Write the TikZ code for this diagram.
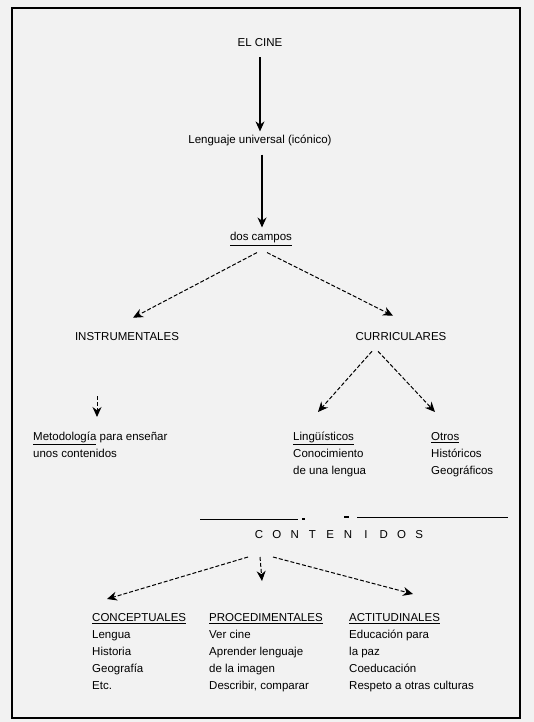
\documentclass[tikz,border=0pt]{standalone}
\usepackage{fontspec}
\setmainfont{Liberation Sans}
\usetikzlibrary{arrows.meta,calc}
\begin{document}
\begin{tikzpicture}[x=1pt,y=-1pt,
  lbl/.style={inner sep=0pt,font=\fontsize{11.5}{17}\selectfont},
  blk/.style={lbl,align=left,anchor=north west},
  solidarr/.style={line width=1.1pt,-{Stealth[length=10pt,width=9pt]}},
  dasharr/.style={line width=1pt,dash pattern=on 4pt off 2pt,-{Stealth[length=10pt,width=9pt]}},
  rule/.style={line width=1pt}]
\fill[black!5] (0,0) rectangle (534,722);
\useasboundingbox (0,0) rectangle (534,722);
\draw[line width=1.5pt] (12,8) rectangle (520,718);

\node[lbl] (cine) at (260,43) {EL CINE};
\node[lbl] (leng) at (260,140) {Lenguaje universal (icónico)};
\node[lbl] (ramas) at (261,239) {\underline{dos campos}};
\node[lbl] (instr) at (127,337) {INSTRUMENTALES};
\node[lbl] (curr) at (401,337) {CURRICULARES};
\node[blk] (metod) at (33,432) {\underline{Metodología} para enseñar\\unos contenidos};
\node[blk] (ling) at (293,432) {\underline{Lingüísticos}\\Conocimiento\\de una lengua};
\node[blk] (otros) at (431,432) {\underline{Otros}\\Históricos\\Geográficos};
\node[lbl,anchor=west] (cont) at (250,535) {\makebox[17.8pt]{C}\makebox[17.8pt]{O}\makebox[17.8pt]{N}\makebox[17.8pt]{T}\makebox[17.8pt]{E}\makebox[17.8pt]{N}\makebox[17.8pt]{I}\makebox[17.8pt]{D}\makebox[17.8pt]{O}\makebox[17.8pt]{S}};
\node[blk] (concep) at (92,613) {\underline{CONCEPTUALES}\\Lengua\\Historia\\Geografía\\Etc.};
\node[blk] (proced) at (209,613) {\underline{PROCEDIMENTALES}\\Ver cine\\Aprender lenguaje\\de la imagen\\Describir, comparar};
\node[blk] (actit) at (349,613) {\underline{ACTITUDINALES}\\Educación para\\la paz\\Coeducación\\Respeto a otras culturas};

\draw[solidarr,shorten <=10pt,shorten >=3pt] (cine.south) -- (cine.south |- leng.north);
\draw[solidarr,shorten <=9pt,shorten >=5pt] ([xshift=2pt]leng.south) -- ([xshift=2pt]leng.south |- ramas.north);

\draw[dasharr] ($(ramas.south)+(-4,7)$) -- ($(instr.north)+(6,-15)$);
\draw[dasharr] ($(ramas.south)+(6,7)$) -- ($(curr.north)+(-8,-17)$);

\draw[dasharr] ($(curr.south)+(-29,10)$) -- ($(ling.north west)+(25,-20)$);
\draw[dasharr] ($(curr.south)+(-23,10)$) -- ($(otros.north west)+(4,-20)$);

\coordinate (m1) at (97,396);
\draw[dasharr] (m1) -- ($(metod.north west)+(64,-15)$);

\draw[rule] (200,519) -- (298,519);
\fill (302,518) rectangle (305,520);
\fill (344,516) rectangle (349,518);
\draw[rule] (357,517) -- (508,517);

\coordinate (fan) at (260,556);
\draw[dasharr] ($(fan)+(-12,1)$) -- ($(concep.north west)+(15,-14)$);
\draw[dasharr] ($(fan)+(0,1)$) -- ($(proced.north west)+(53,-32)$);
\draw[dasharr] ($(fan)+(13,1)$) -- ($(actit.north west)+(64,-19)$);
\end{tikzpicture}
\end{document}
